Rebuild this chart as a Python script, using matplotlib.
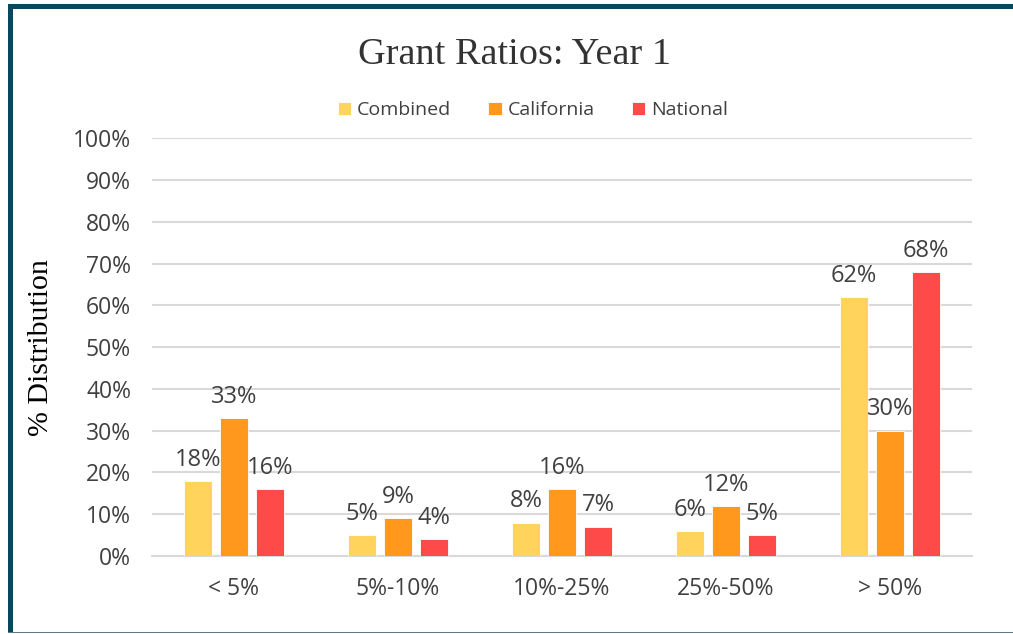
import matplotlib
matplotlib.use("Agg")
import numpy as np
import matplotlib.pyplot as plt
from matplotlib.patches import Rectangle

categories = ["< 5%", "5%-10%", "10%-25%", "25%-50%", "> 50%"]
combined = [18, 5, 8, 6, 62]
california = [33, 9, 16, 12, 30]
national = [16, 4, 7, 5, 68]
series_names = ["Combined", "California", "National"]
colors = ["#FFD35C", "#FF981D", "#FF4A4A"]

plt.rcParams['font.family'] = ['Open Sans', 'DejaVu Sans']
txt = "#404040"

fig = plt.figure(figsize=(10.13, 6.34), dpi=100)
ax = fig.add_axes([0.150, 0.123, 0.8095, 0.659])

x = np.arange(len(categories))
w = 0.17
step = 0.22
for i, (vals, name, c) in enumerate(zip([combined, california, national], series_names, colors)):
    pos = x + (i - 1) * step
    ax.bar(pos, vals, w, color=c, edgecolor="white", linewidth=0.6, label=name, zorder=3)
    for px, v in zip(pos, vals):
        ax.annotate(f"{v}%", (px, v), xytext=(0, 11), textcoords="offset points",
                    ha="center", va="baseline", fontsize=17, color=txt, zorder=4)

ax.set_xlim(-0.5, 4.5)
ax.set_ylim(0, 100)
ax.set_yticks(range(0, 101, 10))
ax.set_yticklabels([f"{t}%" for t in range(0, 101, 10)])
ax.set_xticks(x)
ax.set_xticklabels(categories)
ax.tick_params(axis="both", length=0, labelsize=16.5, labelcolor=txt)
ax.tick_params(axis="y", pad=15)
ax.tick_params(axis="x", pad=15)
ax.grid(axis="y", color="#D9D9D9", linewidth=1.5, zorder=0)
for s in ["top", "right", "left"]:
    ax.spines[s].set_visible(False)
ax.spines["bottom"].set_color("#D9D9D9")
ax.spines["bottom"].set_linewidth(1.5)

ax.set_ylabel("% Distribution", family="Liberation Serif", fontsize=21.5, color="black", labelpad=14)
fig.text(0.508, 0.914, "Grant Ratios: Year 1", family="Liberation Serif", fontsize=27.5,
         color="#333333", ha="center", va="center")

fig.legend(loc="center", bbox_to_anchor=(0.526, 0.826), ncol=3, frameon=False,
           fontsize=14, handlelength=0.7, handleheight=0.7, handletextpad=0.3,
           columnspacing=1.9, labelcolor=txt)

# frame bands
fig.add_artist(Rectangle((8 / 1013, 1 - 9 / 634), 1, 5 / 634, transform=fig.transFigure,
                         color="#0B4661", lw=0))
fig.add_artist(Rectangle((8 / 1013, 2 / 634), 5 / 1013, 1 - 6 / 634, transform=fig.transFigure,
                         color="#0B4661", lw=0))
fig.add_artist(Rectangle((8 / 1013, 1 / 634), 1, 1.2 / 634, transform=fig.transFigure,
                         color="#5C7A8A", lw=0))

fig.savefig("out.png", dpi=100)
